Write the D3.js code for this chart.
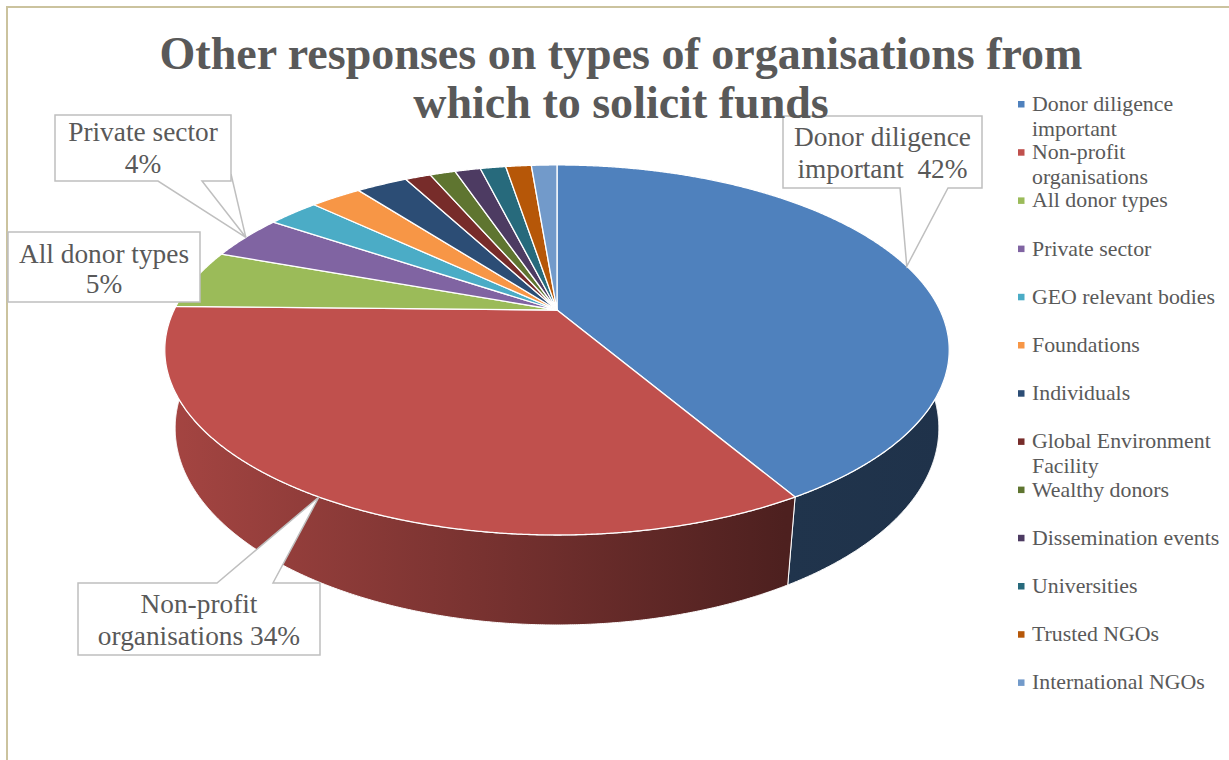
<!DOCTYPE html>
<html>
<head>
<meta charset="utf-8">
<script src="https://cdn.jsdelivr.net/npm/d3@7"></script>
<style>
  html, body { margin: 0; padding: 0; background: #fff; }
  svg { display: block; }
  .pre { white-space: pre; }
</style>
</head>
<body>
<svg id="chart" width="1229" height="760"></svg>
<script>
// ---- data ----
const categories = [
  "Donor diligence important", "Non-profit organisations", "All donor types",
  "Private sector", "GEO relevant bodies", "Foundations", "Individuals",
  "Global Environment Facility", "Wealthy donors", "Dissemination events",
  "Universities", "Trusted NGOs", "International NGOs"
];
const responses = [32, 26, 4, 3, 2, 2, 2, 1, 1, 1, 1, 1, 1];
const sliceColors = [
  "#4F81BD", "#C0504D", "#9BBB59", "#8064A2", "#4BACC6", "#F79646", "#2C4D75",
  "#772C2A", "#5F7530", "#4D3B62", "#276A7C", "#B65708", "#729ACA"
];
const titleLines = ["Other responses on types of organisations from", "which to solicit funds"];

// ---- setup ----
const svg = d3.select("#chart");
const SERIF = "'Liberation Serif', 'Times New Roman', serif";
const TEXT = "#595959";
const pct = d3.format(".0%");
const total = d3.sum(responses);

function fitSize(str, weight, target) {
  const t = svg.append("text").attr("font-family", SERIF).attr("font-weight", weight)
    .attr("font-size", 20).text(str);
  const w = t.node().getComputedTextLength();
  t.remove();
  return 20 * target / w;
}

// outer frame
svg.append("path").attr("d", "M7,760 V7 H1229")
  .attr("fill", "none").attr("stroke", "#CBC39E").attr("stroke-width", 2);

// ---- 3D pie projection (tilted disc seen in perspective) ----
const cx = 557, cy = 310;
const focal = 1574, dist = 4.11, tilt = Math.asin(0.4606), thick = 0.2316;
function project(theta, level) {
  const X = Math.sin(theta), Z = Math.cos(theta), Y = -thick * level;
  const depth = dist - Y * Math.sin(tilt) + Z * Math.cos(tilt);
  const up = Y * Math.cos(tilt) + Z * Math.sin(tilt);
  return [cx + focal * X / depth, cy - focal * up / depth];
}
function rim(a0, a1, level) {
  const n = Math.max(2, Math.ceil((a1 - a0) / 0.004));
  return d3.range(n + 1).map(i => project(a0 + (a1 - a0) * i / n, level));
}

const arcs = d3.pie().sort(null).value(d => d)(responses);
const line = d3.line();
const defs = svg.append("defs");
const pieG = svg.append("g");

// side walls (front half only), shaded darker towards the right
const shadeStops = [[165, 0.86], [785, 0.40], [950, 0.39]];
arcs.forEach((a, i) => {
  const s0 = Math.max(a.startAngle, Math.PI / 2);
  const s1 = Math.min(a.endAngle, 3 * Math.PI / 2);
  if (s0 >= s1) return;
  const grad = defs.append("linearGradient").attr("id", "side" + i)
    .attr("gradientUnits", "userSpaceOnUse").attr("x1", 165).attr("x2", 950).attr("y1", 0).attr("y2", 0);
  shadeStops.forEach(([x, f]) => {
    grad.append("stop").attr("offset", (x - 165) / (950 - 165))
      .attr("stop-color", d3.interpolateRgb("#000", sliceColors[i])(f));
  });
  const pts = rim(s0, s1, 0).concat(rim(s0, s1, 1).reverse());
  pieG.append("path").attr("d", line(pts) + "Z")
    .attr("fill", `url(#side${i})`).attr("stroke", "#fff").attr("stroke-width", 1)
    .attr("stroke-linejoin", "round");
});

// top faces
arcs.forEach((a, i) => {
  const pts = [[cx, cy]].concat(rim(a.startAngle, a.endAngle, 0));
  pieG.append("path").attr("d", line(pts) + "Z")
    .attr("fill", sliceColors[i]).attr("stroke", "#fff").attr("stroke-width", 1.3)
    .attr("stroke-linejoin", "round");
});

// ---- callout labels ----
const labelSize = fitSize("Donor diligence", 400, 177);
const callouts = [
  { i: 3, box: [55, 115, 231, 181], wedge: ["bottom", 158, 202], leader: [231, 174],
    lines: (n, p) => [n, p], base: [141, 173] },
  { i: 0, box: [783, 116, 982, 188], wedge: ["bottom", 900, 948],
    lines: (n, p) => ["Donor diligence", "important  " + p], base: [146, 178] },
  { i: 2, box: [8, 232, 200, 302], wedge: null,
    lines: (n, p) => [n, p], base: [263, 293] },
  { i: 1, box: [78, 583, 320, 655], wedge: ["top", 217, 273],
    lines: (n, p) => ["Non-profit", "organisations " + p], base: [613, 645] }
];
const labelG = svg.append("g");
callouts.forEach(c => {
  const a = arcs[c.i];
  const tip = project((a.startAngle + a.endAngle) / 2, 0);
  const [x0, y0, x1, y1] = c.box;
  let d;
  if (!c.wedge) d = `M${x0},${y0}H${x1}V${y1}H${x0}Z`;
  else if (c.wedge[0] === "bottom")
    d = `M${x0},${y0}H${x1}V${y1}H${c.wedge[2]}L${tip[0]},${tip[1]}L${c.wedge[1]},${y1}H${x0}Z`;
  else
    d = `M${x0},${y0}H${c.wedge[1]}L${tip[0]},${tip[1]}L${c.wedge[2]},${y0}H${x1}V${y1}H${x0}Z`;
  if (c.leader) {
    labelG.append("line").attr("x1", c.leader[0]).attr("y1", c.leader[1])
      .attr("x2", tip[0]).attr("y2", tip[1]).attr("stroke", "#BFBFBF").attr("stroke-width", 1.5);
  }
  labelG.append("path").attr("d", d).attr("fill", "#fff")
    .attr("stroke", "#BFBFBF").attr("stroke-width", 1.5).attr("stroke-linejoin", "miter");
  const lines = c.lines(categories[c.i], pct(responses[c.i] / total));
  lines.forEach((s, k) => {
    labelG.append("text").attr("class", "pre")
      .attr("x", (x0 + x1) / 2).attr("y", c.base[k]).attr("text-anchor", "middle")
      .attr("font-family", SERIF).attr("font-size", labelSize).attr("fill", TEXT).text(s);
  });
});

// ---- title ----
const titleSize = fitSize(titleLines[0], 700, 923);
svg.append("g").selectAll("text").data(titleLines).join("text")
  .attr("x", 621).attr("y", (d, k) => 69 + k * 49).attr("text-anchor", "middle")
  .attr("font-family", SERIF).attr("font-weight", 700).attr("font-size", titleSize)
  .attr("fill", TEXT).text(d => d);

// ---- legend ----
const legendSize = fitSize("GEO relevant bodies", 400, 183);
function wrap(str, maxW) {
  const words = str.split(" "), out = [];
  let cur = "";
  const probe = svg.append("text").attr("font-family", SERIF).attr("font-size", legendSize);
  words.forEach(w => {
    const test = cur ? cur + " " + w : w;
    probe.text(test);
    if (cur && probe.node().getComputedTextLength() > maxW) { out.push(cur); cur = w; }
    else cur = test;
  });
  out.push(cur);
  probe.remove();
  return out;
}
const legend = svg.append("g");
categories.forEach((name, i) => {
  const y0 = 104.5 + i * 48.2;
  legend.append("rect").attr("x", 1018).attr("y", y0 - 3.5).attr("width", 6.5).attr("height", 6.5)
    .attr("fill", sliceColors[i]);
  wrap(name, 205).forEach((s, k) => {
    legend.append("text").attr("x", 1032).attr("y", y0 + 6.5 + k * 25)
      .attr("font-family", SERIF).attr("font-size", legendSize).attr("fill", TEXT).text(s);
  });
});
</script>
</body>
</html>
